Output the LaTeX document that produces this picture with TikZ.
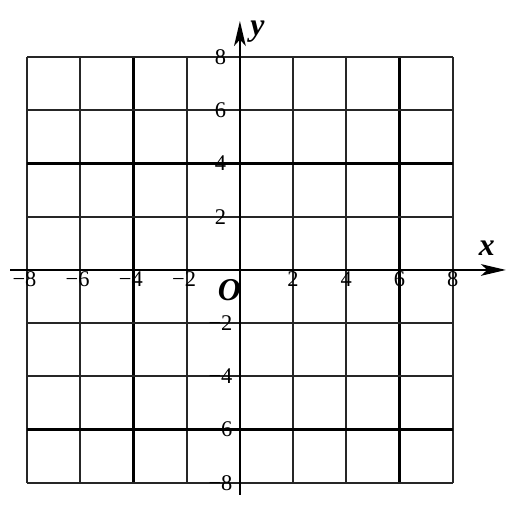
\documentclass[tikz,border=0pt]{standalone}
\usepackage{fontspec}
\setmainfont{Liberation Serif}
\usetikzlibrary{arrows.meta}
\begin{document}
\begin{tikzpicture}[x=0.5cm,y=0.5cm,
  gridline/.style={line width=1.05pt,black!85},
  thickline/.style={line width=1.6pt,black},
  axisline/.style={line width=0.9pt,black,-{Stealth[length=4.7mm,width=2.2mm,inset=1.2mm]}},
  ticklabel/.style={font=\fontsize{12}{14}\selectfont,inner sep=0pt},
  axislabel/.style={font=\fontsize{17}{20}\selectfont\bfseries\itshape,inner sep=0pt}]
\useasboundingbox (-9.02,-9.10) rectangle (10.23,10.15);
% grid
\foreach \v in {-8,-6,-2,0,2,4,8} \draw[gridline] (\v,-8) -- (\v,8);
\foreach \v in {-4,6} \draw[thickline] (\v,-8) -- (\v,8);
\foreach \v in {-8,-4,-2,0,2,6,8} \draw[gridline] (-8,\v) -- (8,\v);
\foreach \v in {4,-6} \draw[thickline] (-8,\v) -- (8,\v);
% axes
\coordinate (xs) at (-8.64,0);
\coordinate (xe) at (10.0,0);
\coordinate (ys) at (0,-8.46);
\coordinate (ye) at (0,9.36);
\draw[axisline] (xs) -- (xe);
\draw[axisline] (ys) -- (ye);
% tick labels
\foreach \v in {8,6,4,2} \node[ticklabel] (xlm\v) at (-\v-0.1,-0.36) {−\v};
\foreach \v in {2,4,6,8} \node[ticklabel] (xl\v) at (\v,-0.36) {\v};
\foreach \v in {2,4,6,8} \node[ticklabel] (yl\v) at (-0.73,\v) {\v};
\foreach \v in {2,4,6,8} \node[ticklabel] (ylm\v) at (-0.73,-\v) {−\v};
% axis labels
\node[axislabel] (O) at (-0.40,-0.77) {O};
\node[axislabel] (xlab) at (9.28,0.81) {x};
\node[axislabel] (ylab) at (0.66,8.95) {y};
\end{tikzpicture}
\end{document}
